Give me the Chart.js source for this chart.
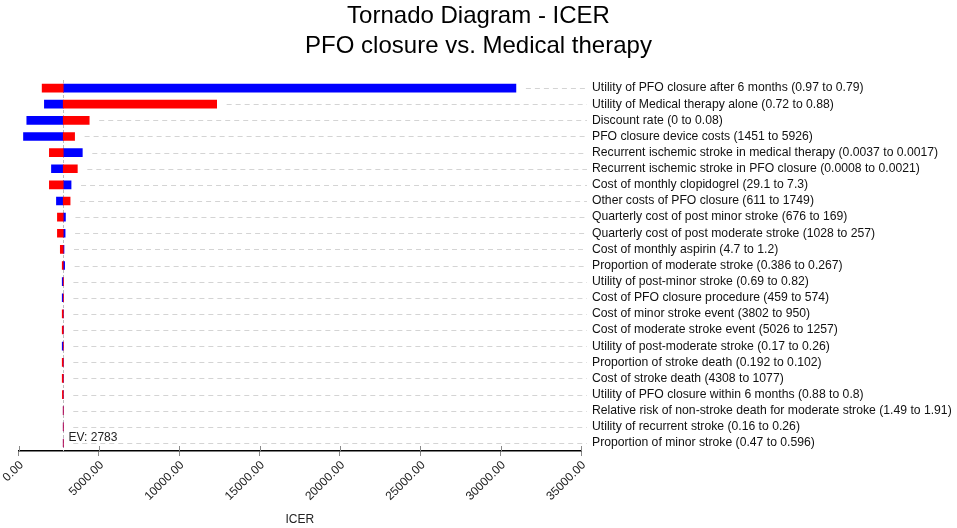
<!DOCTYPE html>
<html>
<head>
<meta charset="utf-8">
<script src="https://cdn.jsdelivr.net/npm/chart.js@4/dist/chart.umd.min.js"></script>
<style>
  body { margin: 0; background: #fff; }
  #wrap { width: 957px; height: 528px; }
</style>
</head>
<body>
<div id="wrap"><canvas id="myChart"></canvas></div>
<script>
// Datos del diagrama
var expectedValue = 2783;

var parametros = [
  "Utility of PFO closure after 6 months (0.97 to 0.79)",
  "Utility of Medical therapy alone (0.72 to 0.88)",
  "Discount rate (0 to 0.08)",
  "PFO closure device costs (1451 to 5926)",
  "Recurrent ischemic stroke in medical therapy (0.0037 to 0.0017)",
  "Recurrent ischemic stroke in PFO closure (0.0008 to 0.0021)",
  "Cost of monthly clopidogrel (29.1 to 7.3)",
  "Other costs of PFO closure (611 to 1749)",
  "Quarterly cost of post minor stroke (676 to 169)",
  "Quarterly cost of post moderate stroke (1028 to 257)",
  "Cost of monthly aspirin (4.7 to 1.2)",
  "Proportion of moderate stroke (0.386 to 0.267)",
  "Utility of post-minor stroke (0.69 to 0.82)",
  "Cost of PFO closure procedure (459 to 574)",
  "Cost of minor stroke event (3802 to 950)",
  "Cost of moderate stroke event (5026 to 1257)",
  "Utility of post-moderate stroke (0.17 to 0.26)",
  "Proportion of stroke death (0.192 to 0.102)",
  "Cost of stroke death (4308 to 1077)",
  "Utility of PFO closure within 6 months (0.88 to 0.8)",
  "Relative risk of non-stroke death for moderate stroke (1.49 to 1.91)",
  "Utility of recurrent stroke (0.16 to 0.26)",
  "Proportion of minor stroke (0.47 to 0.596)"
];

// ICER en cada extremo del rango
var icerRojo = [1470, 12330, 4400, 3490, 1920, 3660, 1920, 3210, 2420, 2420, 2600, 2720,
  2795, 2795, 2720, 2720, 2790, 2720, 2720, 2730, 2780, 2782, 2782];
var icerAzul = [30950, 1610, 515, 310, 3970, 2050, 3270, 2360, 2920, 2900, 2830, 2870,
  2720, 2720, 2790, 2790, 2720, 2790, 2790, 2786, 2786, 2785, 2784];

var ticksX = [0, 5000, 10000, 15000, 20000, 25000, 30000, 35000];

var fuente = "Arial, 'Liberation Sans', sans-serif";

// Lineas punteadas, linea EV y marcas del eje
var extrasPlugin = {
  id: 'extras',
  beforeDatasetsDraw: function(chart) {
    var ctx = chart.ctx;
    var xs = chart.scales.x;
    var ys = chart.scales.y;
    var area = chart.chartArea;
    ctx.save();
    ctx.lineWidth = 1;
    ctx.strokeStyle = '#d4d4d4';
    ctx.setLineDash([5, 4]);
    parametros.forEach(function(p, i) {
      var y = Math.round(ys.getPixelForValue(i)) + 0.5;
      var x0 = xs.getPixelForValue(Math.max(icerRojo[i], icerAzul[i], expectedValue)) + 10;
      ctx.beginPath();
      ctx.moveTo(x0, y);
      ctx.lineTo(area.right + 6, y);
      ctx.stroke();
    });
    var xe = Math.round(xs.getPixelForValue(expectedValue)) + 0.5;
    ctx.strokeStyle = '#bdbdbd';
    ctx.setLineDash([3, 2]);
    ctx.beginPath();
    ctx.moveTo(xe, area.top);
    ctx.lineTo(xe, area.bottom);
    ctx.stroke();
    ctx.setLineDash([]);
    ctx.fillStyle = '#222';
    ctx.font = '12px ' + fuente;
    ctx.textBaseline = 'middle';
    ctx.fillText('EV: ' + expectedValue, xe + 5, area.bottom - 13);
    ctx.strokeStyle = '#888';
    ticksX.forEach(function(t) {
      var x = Math.round(xs.getPixelForValue(t)) + 0.5;
      ctx.beginPath();
      ctx.moveTo(x, area.bottom - 5);
      ctx.lineTo(x, area.bottom);
      ctx.stroke();
    });
    ctx.restore();
  }
};

var ctx = document.getElementById('myChart').getContext('2d');
var myChart = new Chart(ctx, {
  type: 'bar',
  data: {
    labels: parametros,
    datasets: [{
      label: 'Rojo',
      data: icerRojo.map(function(v) { return [expectedValue, v]; }),
      backgroundColor: '#ff0000',
      barThickness: 8,
      grouped: false,
      borderSkipped: false
    },
    {
      label: 'Azul',
      data: icerAzul.map(function(v) { return [expectedValue, v]; }),
      backgroundColor: '#0000ff',
      barThickness: 8,
      grouped: false,
      borderSkipped: false
    }]
  },
  options: {
    indexAxis: 'y',
    responsive: true,
    maintainAspectRatio: false,
    animation: false,
    layout: { padding: { left: 0, right: 0, top: 1, bottom: 1 } },
    plugins: {
      legend: { display: false },
      tooltip: { enabled: false },
      title: {
        display: true,
        text: ['Tornado Diagram - ICER', 'PFO closure vs. Medical therapy'],
        color: '#000',
        font: { family: fuente, size: 24, weight: 'normal', lineHeight: 1.25 },
        padding: { top: 0, bottom: 19 }
      }
    },
    scales: {
      x: {
        type: 'linear',
        min: 0,
        max: 35000,
        afterBuildTicks: function(scale) {
          scale.ticks = ticksX.map(function(v) { return { value: v }; });
        },
        ticks: {
          maxRotation: 45,
          minRotation: 45,
          padding: 2,
          labelOffset: 3,
          color: '#222',
          font: { family: fuente, size: 12 },
          callback: function(v) { return Number(v).toFixed(2); }
        },
        grid: { drawOnChartArea: false, tickLength: 5, color: '#888' },
        border: { color: '#000', width: 1.5 },
        title: {
          display: true,
          text: 'ICER',
          color: '#222',
          font: { family: fuente, size: 12 },
          padding: { top: 7, bottom: 0 }
        }
      },
      y: {
        position: 'right',
        afterFit: function(scale) { scale.width = 376; },
        grid: { display: false, drawTicks: false },
        border: { display: false },
        ticks: {
          padding: 11,
          color: '#111',
          crossAlign: 'near',
          autoSkip: false,
          font: { family: fuente, size: 12.2 }
        }
      }
    }
  },
  plugins: [extrasPlugin]
});
</script>
</body>
</html>
